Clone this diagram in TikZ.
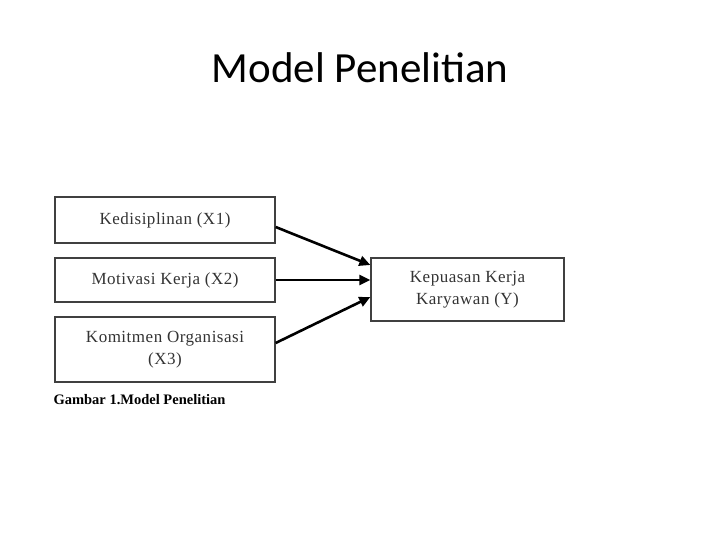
\documentclass[tikz,border=0pt]{standalone}
\usepackage{fontspec}
\setmainfont{Liberation Serif}
\newfontfamily\titlefont{Carlito}
\newfontfamily\boxfont[LetterSpace=3]{Liberation Serif}
\usetikzlibrary{arrows.meta}

\begin{document}
\begin{tikzpicture}[x=1pt,y=-1pt,
	varbox/.style={draw=black!75, line width=1.3pt, minimum width=220pt, align=center, inner sep=0pt,
		font=\boxfont\fontsize{17}{22}\selectfont, text=black!80},
	link/.style={-{Triangle[length=11pt,width=10pt]}, line width=2.6pt}]
	\useasboundingbox (0,0) rectangle (720,540);
	\node[font=\titlefont\fontsize{43}{50}\selectfont] (title) at (360,68) {Model Penelitian};
	\node[varbox, minimum height=46pt] (x1) at (165,220) {Kedisiplinan (X1)};
	\node[varbox, minimum height=44pt] (x2) at (165,280) {Motivasi Kerja (X2)};
	\node[varbox, minimum height=65pt] (x3) at (165,349.5) {Komitmen Organisasi\\(X3)};
	\node[varbox, minimum width=193pt, minimum height=63pt] (y) at (467.5,289.5) {Kepuasan Kerja\\Karyawan (Y)};
	\node[anchor=west, font=\bfseries\fontsize{14.5}{17}\selectfont] (caption) at (50,400) {Gambar 1.Model Penelitian};
	\draw[link] (x1.east |- 0,227) -- (y.west |- 0,265);
	\draw[link] (x2.east) -- (y.west |- 0,280);
	\draw[link] (x3.east |- 0,343) -- (y.west |- 0,297);
\end{tikzpicture}
\end{document}
